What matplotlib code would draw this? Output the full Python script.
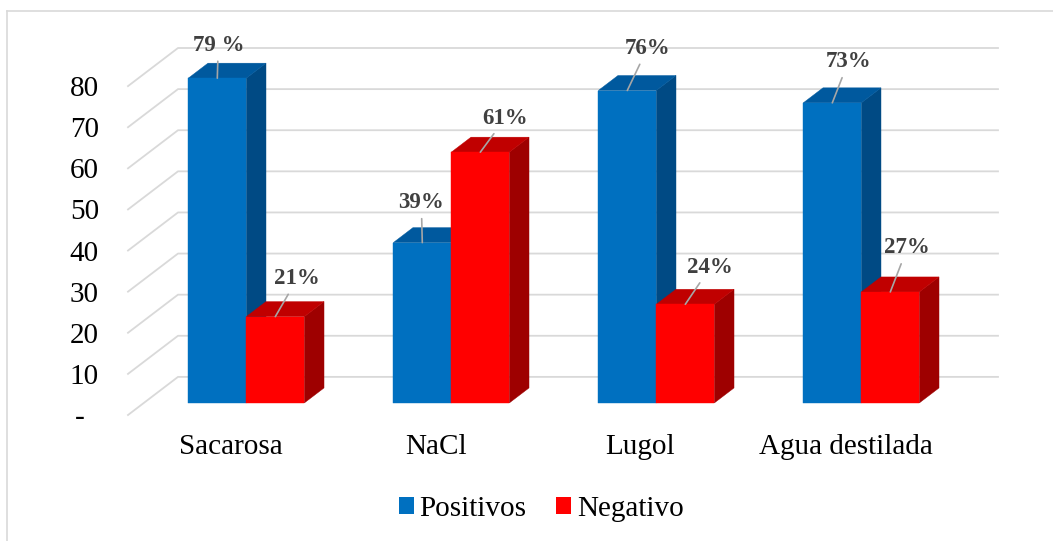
import numpy as np
import matplotlib
matplotlib.use("Agg")
import matplotlib.pyplot as plt
from matplotlib.patches import Polygon, Patch
from matplotlib.lines import Line2D

plt.rcParams["font.family"] = ["Liberation Serif", "DejaVu Serif"]

# data
categories = ["Sacarosa", "NaCl", "Lugol", "Agua destilada"]
positivos = [79, 39, 76, 73]
negativo = [21, 61, 24, 27]
labels_pos = ["79 %", "39%", "76%", "73%"]
labels_neg = ["21%", "61%", "24%", "27%"]
yticks = [0, 10, 20, 30, 40, 50, 60, 70, 80]
ytick_labels = ["-", "10", "20", "30", "40", "50", "60", "70", "80"]

W, H = 1053, 541
fig = plt.figure(figsize=(W / 100, H / 100), dpi=100)

# oblique "3d" look: depth offset in data units
DX = 50 / 205.0
DY = 9.27
z0, z1 = 0.316, 0.71
bw = 0.283

ax = fig.add_axes([128 / W, (H - 415) / H, (998 - 128) / W, (415 - 48) / H])
ax.set_xlim(-0.5, 3.5 + DX)
ax.set_ylim(0, 80 + DY)
for s in ax.spines.values():
    s.set_visible(False)

# gridlines: floor edge diagonal + back wall
for v in yticks:
    ax.plot([-0.5, -0.5 + DX, 3.5 + DX], [v, v + DY, v + DY],
            color="#d9d9d9", lw=1.3, zorder=1, clip_on=False)


def proj(x, v, z):
    return (x + z * DX, v + z * DY)


def bar3d(x0, x1, v, front, top, side):
    pts_side = [proj(x1, 0, z0), proj(x1, v, z0), proj(x1, v, z1), proj(x1, 0, z1)]
    pts_top = [proj(x0, v, z0), proj(x1, v, z0), proj(x1, v, z1), proj(x0, v, z1)]
    pts_front = [proj(x0, 0, z0), proj(x1, 0, z0), proj(x1, v, z0), proj(x0, v, z0)]
    for pts, c in ((pts_side, side), (pts_top, top), (pts_front, front)):
        ax.add_patch(Polygon(pts, closed=True, facecolor=c, edgecolor=c,
                             lw=0.3, zorder=3, clip_on=False))


# label offsets (px) of text centre from bar top
off_pos = [(1, 33), (-1, 40), (20, 42), (16, 41)]
off_neg = [(22, 38), (25, 34), (25, 37), (17, 44)]

for i in range(len(categories)):
    xb0 = i - bw
    bar3d(xb0, i, positivos[i], "#0070C0", "#00599E", "#004A84")
    bar3d(i, i + bw, negativo[i], "#FF0000", "#C00000", "#9E0000")

    for x0, v, lab, off in ((xb0, positivos[i], labels_pos[i], off_pos[i]),
                            (i, negativo[i], labels_neg[i], off_neg[i])):
        xy = proj(x0 + bw / 2, v, z0)
        ax.annotate(lab, xy=xy, xytext=(off[0] * 0.72, off[1] * 0.72),
                    textcoords="offset points", ha="center", va="center",
                    fontsize=16.5, fontweight="bold", color="#404040",
                    annotation_clip=False, zorder=5,
                    arrowprops=dict(arrowstyle="-", color="#a6a6a6", lw=1.2,
                                    shrinkA=2, shrinkB=0))

# the "-" zero label sits further left (accounting style padding)
ax.set_yticks(yticks)
ax.set_yticklabels([t + "  " if t == "-" else t for t in ytick_labels])
ax.set_xticks(range(len(categories)))
ax.set_xticklabels(categories)
ax.tick_params(axis="y", length=0, pad=21, labelsize=21, labelcolor="black")
ax.tick_params(axis="x", length=0, pad=14, labelsize=21, labelcolor="black")

# legend
handles = [Patch(facecolor="#0070C0", edgecolor="none", label="Positivos"),
           Patch(facecolor="#FF0000", edgecolor="none", label="Negativo")]
fig.legend(handles=handles, loc="center", bbox_to_anchor=(541 / W, 1 - 509 / H),
           ncol=2, frameon=False, fontsize=21, handlelength=0.52,
           handleheight=0.52, handletextpad=0.2, columnspacing=1.0)

# chart border (partially cut in the picture)
fig.add_artist(Line2D([7 / W, 7 / W], [0, 1 - 11 / H], color="#d9d9d9", lw=1.2))
fig.add_artist(Line2D([7 / W, 1], [1 - 11 / H, 1 - 11 / H], color="#d9d9d9", lw=1.2))

fig.savefig("out.png", dpi=100)
